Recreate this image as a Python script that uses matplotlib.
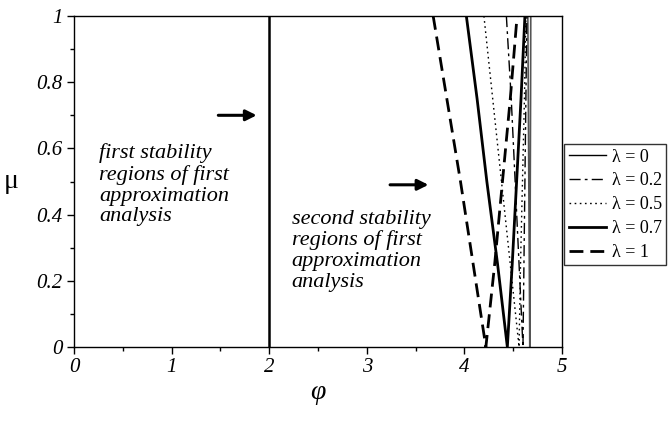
import matplotlib
matplotlib.use("Agg")
import matplotlib.pyplot as plt

# ---- data ----
mu_pts = [0.0, 0.25, 0.5, 0.75, 1.0]
lambdas = ["0", "0.2", "0.5", "0.7", "1"]
# left branch phi at mu_pts
left_l0 = [4.67, 4.665, 4.66, 4.655, 4.65]
left_l02 = [4.60, 4.56, 4.52, 4.48, 4.43]
left_l05 = [4.56, 4.47, 4.38, 4.29, 4.20]
left_l07 = [4.44, 4.34, 4.23, 4.13, 4.02]
left_l1 = [4.22, 4.09, 3.96, 3.82, 3.68]
# right branch phi at mu_pts
right_l0 = [4.67, 4.672, 4.675, 4.678, 4.68]
right_l02 = [4.60, 4.61, 4.62, 4.63, 4.64]
right_l05 = [4.56, 4.575, 4.595, 4.615, 4.63]
right_l07 = [4.44, 4.49, 4.535, 4.58, 4.62]
right_l1 = [4.22, 4.31, 4.39, 4.47, 4.54]
first_boundary_phi = [2.0, 2.0]
first_boundary_mu = [0.0, 1.0]

xticks = [0, 1, 2, 3, 4, 5]
yticks = [0, 0.2, 0.4, 0.6, 0.8, 1]
ytick_labels = ["0", "0.2", "0.4", "0.6", "0.8", "1"]

serif = ["Liberation Serif", "DejaVu Serif"]
plt.rcParams["font.family"] = serif

fig = plt.figure(figsize=(6.72, 4.24), dpi=100)
ax = fig.add_axes([74 / 672, 1 - 347 / 424, (562 - 74) / 672, (347 - 16) / 424])

styles = [
    dict(color="#555555", lw=1.2, ls="-"),
    dict(color="black", lw=1.0, ls=(0, (8, 3, 2, 3))),
    dict(color="black", lw=1.0, ls=(0, (1.2, 2.5))),
    dict(color="black", lw=2.0, ls="-"),
    dict(color="black", lw=2.0, ls=(0, (5, 2.5))),
]
lefts = [left_l0, left_l02, left_l05, left_l07, left_l1]
rights = [right_l0, right_l02, right_l05, right_l07, right_l1]

handles = []
for lam, st, lf, rt in zip(lambdas, styles, lefts, rights):
    phi = list(reversed(lf)) + rt[1:]
    mu = list(reversed(mu_pts)) + mu_pts[1:]
    ax.plot(phi, mu, **st)
    hst = dict(st)
    if lam == "0":
        hst["color"] = "black"
        hst["lw"] = 1.0
    h, = ax.plot([], [], **hst)
    handles.append(h)

ax.plot(first_boundary_phi, first_boundary_mu, color="black", lw=1.8)

ax.set_xlim(0, 5)
ax.set_ylim(0, 1)
ax.set_xticks(xticks)
ax.set_xticklabels([str(t) for t in xticks])
ax.set_yticks(yticks)
ax.set_yticklabels(ytick_labels)
ax.set_xticks([0.5, 1.5, 2.5, 3.5, 4.5], minor=True)
ax.set_yticks([0.1, 0.3, 0.5, 0.7, 0.9], minor=True)
ax.tick_params(which="major", direction="out", length=5, width=1, labelsize=15, pad=3)
ax.tick_params(which="minor", direction="out", length=3, width=1)
for lbl in ax.get_xticklabels() + ax.get_yticklabels():
    lbl.set_fontstyle("italic")
for s in ax.spines.values():
    s.set_linewidth(1.0)

ax.set_xlabel("φ", fontsize=20, fontstyle="italic", labelpad=2)
ax.set_ylabel("μ", fontsize=20, rotation=0, labelpad=18, va="center")

ax.annotate("", xy=(1.9, 0.70), xytext=(1.45, 0.70),
            arrowprops=dict(arrowstyle="-|>", color="black", lw=2.2, mutation_scale=16))
ax.annotate("", xy=(3.66, 0.49), xytext=(3.21, 0.49),
            arrowprops=dict(arrowstyle="-|>", color="black", lw=2.2, mutation_scale=16))

ax.text(0.26, 0.615, "first stability\nregions of first\napproximation\nanalysis",
        fontsize=16, fontstyle="italic", va="top", ha="left", linespacing=1.12)
ax.text(2.23, 0.415, "second stability\nregions of first\napproximation\nanalysis",
        fontsize=16, fontstyle="italic", va="top", ha="left", linespacing=1.12)

leg = fig.legend(handles, ["λ = " + l for l in lambdas],
                 loc="upper left", bbox_to_anchor=(564 / 672, 1 - 144 / 424),
                 fontsize=13, frameon=True, fancybox=False, edgecolor="black",
                 handlelength=2.1, handletextpad=0.3, labelspacing=0.38,
                 borderpad=0.25, borderaxespad=0)
leg.get_frame().set_linewidth(1.0)

fig.savefig("out.png", dpi=100)
